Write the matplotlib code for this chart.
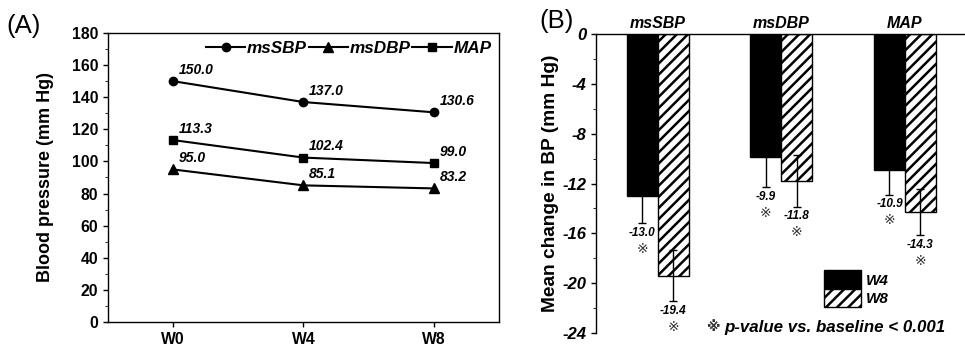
import matplotlib.pyplot as plt
from matplotlib.patches import Patch

plt.rcParams['font.family'] = ['Liberation Sans', 'DejaVu Sans']
plt.rcParams['font.weight'] = 'bold'
plt.rcParams['hatch.linewidth'] = 1.8

# panel A data
weeks = ['W0', 'W4', 'W8']
sbp = [150.0, 137.0, 130.6]
dbp = [95.0, 85.1, 83.2]
map_ = [113.3, 102.4, 99.0]

# panel B data
groups = ['msSBP', 'msDBP', 'MAP']
w4_change = [-13.0, -9.9, -10.9]
w8_change = [-19.4, -11.8, -14.3]
w4_err = [2.2, 2.4, 2.0]
w8_err = [2.05, 2.05, 1.85]

fig = plt.figure(figsize=(9.65, 3.46), dpi=100)

# ---------- (A) ----------
ax1 = fig.add_axes([0.1119, 0.0694, 0.4052, 0.8352])
x = range(len(weeks))
ax1.plot(x, sbp, '-o', color='black', lw=1.5, ms=6, label='msSBP')
ax1.plot(x, dbp, '-^', color='black', lw=1.5, ms=7, label='msDBP')
ax1.plot(x, map_, '-s', color='black', lw=1.5, ms=6, label='MAP')
for series in (sbp, dbp, map_):
    for i, v in enumerate(series):
        ax1.annotate(f'{v:.1f}', (i, v), xytext=(4, 3), textcoords='offset points',
                     ha='left', va='bottom', fontsize=10, fontstyle='italic',
                     fontweight='bold')
ax1.set_xlim(-0.5, 2.5)
ax1.set_ylim(0, 180)
ax1.set_yticks(range(0, 181, 20))
ax1.set_yticks(range(0, 181, 10), minor=True)
ax1.set_xticks(list(x))
ax1.set_xticklabels(weeks)
ax1.tick_params(labelsize=11.3, width=1, direction='out')
ax1.tick_params(which='minor', length=2)
for lab in ax1.get_xticklabels() + ax1.get_yticklabels():
    lab.set_fontweight('bold')
ax1.set_ylabel('Blood pressure (mm Hg)', fontsize=13, fontweight='bold', labelpad=13)
for s in ax1.spines.values():
    s.set_linewidth(1)
ax1.legend(loc='upper right', ncol=3, frameon=False, handlelength=2.3,
           handletextpad=0.1, columnspacing=0.1, borderaxespad=0.05,
           prop=dict(size=12.3, weight='bold', style='italic'))
fig.text(0.007, 0.905, '(A)', fontsize=18.5, fontweight='normal')

# ---------- (B) ----------
ax2 = fig.add_axes([0.6176, 0.0376, 0.3842, 0.8641])
xb = list(range(len(groups)))
bw = 0.25
ax2.bar([i - bw / 2 for i in xb], w4_change, bw, color='black', edgecolor='black',
        lw=1, yerr=w4_err, error_kw=dict(ecolor='black', elinewidth=1, capsize=3))
ax2.bar([i + bw / 2 for i in xb], w8_change, bw, color='white', edgecolor='black',
        hatch='///', lw=1, yerr=w8_err,
        error_kw=dict(ecolor='black', elinewidth=1, capsize=3))
for vals, errs, off in ((w4_change, w4_err, -bw / 2), (w8_change, w8_err, bw / 2)):
    for i, (v, e) in enumerate(zip(vals, errs)):
        ax2.text(i + off, v - e - 0.75, f'{v:.1f}', ha='center', va='center',
                 fontsize=8.5, fontstyle='italic', fontweight='bold')
        ax2.text(i + off, v - e - 2.05, '\u203b', ha='center', va='center',
                 fontsize=10, family=['DejaVu Sans'], fontweight='normal',
                 color='#333333')
ax2.set_xlim(-0.5, 2.5)
ax2.set_ylim(-24, 0)
ax2.set_yticks(range(-24, 1, 4))
ax2.set_yticks(range(-24, 1, 2), minor=True)
ax2.set_yticklabels([str(t) for t in range(-24, 1, 4)])
ax2.tick_params(axis='y', labelsize=12, width=1, direction='out')
ax2.tick_params(axis='y', which='minor', length=2)
for lab in ax2.get_yticklabels():
    lab.set_fontweight('bold')
    lab.set_fontstyle('italic')
ax2.set_xticks([])
ax2.spines['right'].set_visible(False)
ax2.spines['bottom'].set_visible(False)
ax2.spines['top'].set_linewidth(1)
ax2.spines['left'].set_linewidth(1)
ax2.set_ylabel('Mean change in BP (mm Hg)', fontsize=13.8, fontweight='bold',
               labelpad=2)
for i, g in enumerate(groups):
    ax2.text(i, 0.25, g, ha='center', va='bottom', fontsize=11.5,
             fontstyle='italic', fontweight='bold')
handles = [Patch(facecolor='black', edgecolor='black', label='W4'),
           Patch(facecolor='white', edgecolor='black', hatch='///', label='W8')]
ax2.legend(handles=handles, loc='upper left', bbox_to_anchor=(0.595, 0.235),
           frameon=False, handlelength=2.4, handleheight=1.45, labelspacing=0,
           handletextpad=0.3, borderpad=0,
           prop=dict(size=11, weight='bold', style='italic'))
ax2.text(0.30, 0.02, '\u203b', transform=ax2.transAxes, ha='left', va='center',
         fontsize=10, family=['DejaVu Sans'], color='#333333')
ax2.text(0.345, 0.02, 'p-value vs. baseline < 0.001', transform=ax2.transAxes,
         ha='left', va='center', fontsize=12.2, fontstyle='italic', fontweight='bold')
fig.text(0.559, 0.92, '(B)', fontsize=18.5, fontweight='normal')

fig.savefig('out.png', dpi=100)
